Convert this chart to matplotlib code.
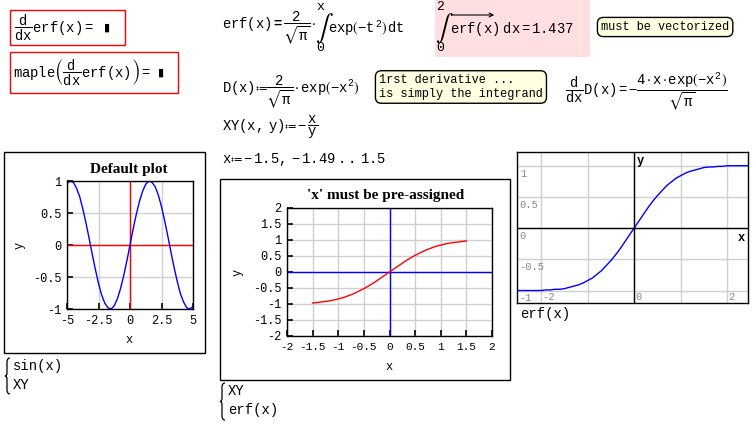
import numpy as np
import matplotlib
matplotlib.use("Agg")
import matplotlib.pyplot as plt
from matplotlib.patches import Rectangle, FancyArrowPatch, PathPatch
from matplotlib.path import Path

# --- data ---
sin_x = [-5, -4.75, -4.5, -4.25, -4, -3.75, -3.5, -3.25, -3, -2.75, -2.5, -2.25, -2, -1.75,
         -1.5, -1.25, -1, -0.75, -0.5, -0.25, 0, 0.25, 0.5, 0.75, 1, 1.25, 1.5, 1.75, 2,
         2.25, 2.5, 2.75, 3, 3.25, 3.5, 3.75, 4, 4.25, 4.5, 4.75, 5]
sin_y = [0.96, 1.00, 0.98, 0.89, 0.76, 0.57, 0.35, 0.11, -0.14, -0.38, -0.60, -0.78, -0.91, -0.98,
         -1.00, -0.95, -0.84, -0.68, -0.48, -0.25, 0.00, 0.25, 0.48, 0.68, 0.84, 0.95, 1.00, 0.98, 0.91,
         0.78, 0.60, 0.38, 0.14, -0.11, -0.35, -0.57, -0.76, -0.89, -0.98, -1.00, -0.96]

erf_x = [-2.5, -2.4, -2.3, -2.2, -2.1, -2.0, -1.9, -1.8, -1.7, -1.6, -1.5, -1.4, -1.3, -1.2,
         -1.1, -1.0, -0.9, -0.8, -0.7, -0.6, -0.5, -0.4, -0.3, -0.2, -0.1, 0.0, 0.1, 0.2, 0.3,
         0.4, 0.5, 0.6, 0.7, 0.8, 0.9, 1.0, 1.1, 1.2, 1.3, 1.4, 1.5, 1.6, 1.7, 1.8, 1.9, 2.0,
         2.1, 2.2, 2.3, 2.4, 2.5]
erf_y = [-1.00, -1.00, -1.00, -1.00, -1.00, -1.00, -0.99, -0.99, -0.98, -0.98, -0.97, -0.95, -0.93, -0.91,
         -0.88, -0.84, -0.80, -0.74, -0.68, -0.60, -0.52, -0.43, -0.33, -0.22, -0.11, 0.00, 0.11, 0.22, 0.33,
         0.43, 0.52, 0.60, 0.68, 0.74, 0.80, 0.84, 0.88, 0.91, 0.93, 0.95, 0.97, 0.98, 0.98, 0.99, 0.99, 1.00,
         1.00, 1.00, 1.00, 1.00, 1.00]

p1_xticks = [-5, -2.5, 0, 2.5, 5]
p1_xlabels = ["-5", "-2.5", "0", "2.5", "5"]
p1_yticks = [-1, -0.5, 0, 0.5, 1]
p1_ylabels = ["-1", "-0.5", "0", "0.5", "1"]

p2_ticks = [-2, -1.5, -1, -0.5, 0, 0.5, 1, 1.5, 2]
p2_labels = ["-2", "-1.5", "-1", "-0.5", "0", "0.5", "1", "1.5", "2"]

p3_xticks = [-2, -1, 0, 1, 2]
p3_xlabels = {-2: "-2", 0: "0", 2: "2"}
p3_yticks = [-1, -0.5, 0, 0.5, 1]
p3_ylabels = ["-1", "-0.5", "0", "0.5", "1"]

integral_value = "1.437"

# --- setup ---
W, H = 756, 426
plt.rcParams['mathtext.fontset'] = 'custom'
plt.rcParams['mathtext.rm'] = 'Liberation Mono'
plt.rcParams['mathtext.it'] = 'Liberation Mono'
plt.rcParams['mathtext.bf'] = 'Liberation Mono:bold'
plt.rcParams['mathtext.fallback'] = 'stix'
plt.rcParams['axes.unicode_minus'] = False
plt.rcParams['font.family'] = ['Liberation Mono', 'DejaVu Sans Mono']

fig = plt.figure(figsize=(W / 100, H / 100), dpi=100)
fig.patch.set_facecolor('white')

MONO = 8.6
MATH = 10


def px(x, y):
    return x / W, 1 - y / H


def put(x, y, s, **kw):
    fx, fy = px(x, y)
    return fig.text(fx, fy, s, **kw)


def box_axes(l, t, r, b):
    return fig.add_axes([l / W, 1 - b / H, (r - l) / W, (b - t) / H])


def frame(l, t, r, b, **kw):
    fig.add_artist(Rectangle(px(l, b), (r - l) / W, (b - t) / H,
                             transform=fig.transFigure, **kw))


def brace(x, top, bot):
    # thin curly bracket like Mathcad's multi-plot label
    mid = (top + bot) / 2
    pts = [(x + 5, top), (x + 2, top), (x + 2, top + 4), (x + 2, mid - 3),
           (x + 2, mid), (x, mid), (x + 2, mid), (x + 2, mid + 3),
           (x + 2, bot - 4), (x + 2, bot), (x + 5, bot)]
    codes = [Path.MOVETO, Path.CURVE3, Path.CURVE3, Path.LINETO,
             Path.CURVE3, Path.CURVE3, Path.CURVE3, Path.CURVE3,
             Path.LINETO, Path.CURVE3, Path.CURVE3]
    verts = [px(a, b) for a, b in pts]
    fig.add_artist(PathPatch(Path(verts, codes), transform=fig.transFigure,
                             fill=False, ec='black', lw=0.9))


def integral(x, y, lo, hi):
    put(x, y, "\u222b", family='STIXGeneral', fontsize=19, ha='left', va='center')
    put(x + 1, y - 21, hi, fontsize=9.5, ha='left', va='center')
    put(x + 1, y + 20, lo, fontsize=9.5, ha='left', va='center')


# --- top formulas ---
frame(10, 10, 125, 45, fill=False, ec='red', lw=1)
put(14, 28, r"$\dfrac{d}{dx}erf(x)=$", fontsize=MATH, va='center')
put(104, 28, "\u25ae", family='DejaVu Sans', fontsize=8, va='center')

frame(10, 52, 178, 93, fill=False, ec='red', lw=1)
put(13, 73, r"$maple\left(\dfrac{d}{dx}erf(x)\right)=$", fontsize=MATH, va='center')
put(158, 73, "\u25ae", family='DejaVu Sans', fontsize=8, va='center')

put(222, 28, r"$erf(x)\mathbf{=}\dfrac{2}{\sqrt{\pi}}\cdot$", fontsize=MATH, va='center')
integral(315, 28, "0", "x")
put(328, 28, r"$exp\left(-t^{2}\right)\,dt$", fontsize=MATH, va='center')

frame(435, 0, 590, 57, fill=True, fc='#ffdfdf', ec='none', zorder=0)
integral(435, 28, "0", "2")
put(450, 29, r"$erf(x)\ dx=" + integral_value + "$", fontsize=MATH, va='center')
fig.add_artist(FancyArrowPatch(px(450, 15), px(497, 15), transform=fig.transFigure,
                               arrowstyle='->', mutation_scale=7, lw=0.8, color='black'))

note = dict(boxstyle='round,pad=0.3,rounding_size=0.5', fc='#ffffe1', ec='black', lw=1)
put(601, 27, "must be vectorized", fontsize=MONO, va='center', bbox=note)

put(222, 92, r"$D(x)≔\dfrac{2}{\sqrt{\pi}}\cdot exp\left(-x^{2}\right)$", fontsize=MATH, va='center')
put(379, 87, "1rst derivative ...\nis simply the integrand", fontsize=MONO, va='center',
    linespacing=1.15, bbox=note)
put(565, 92, r"$\dfrac{d}{dx}D(x)=-\dfrac{4\cdot x\cdot exp\left(-x^{2}\right)}{\sqrt{\pi}}$",
    fontsize=MATH, va='center')

put(222, 127, r"$XY(x,\ y)≔-\dfrac{x}{y}$", fontsize=MATH, va='center')
put(222, 160, r"$x≔-1.5,\,-1.49\ ..\ 1.5$", fontsize=MATH, va='center')


def style(ax, axis_color):
    for s in ax.spines.values():
        s.set_color('black')
        s.set_linewidth(1)
    ax.grid(color='#cfcfcf', lw=1)
    ax.set_axisbelow(True)
    ax.axhline(0, color=axis_color, lw=1)
    ax.axvline(0, color=axis_color, lw=1)
    ax.tick_params(direction='in', length=4, width=1.2, labelsize=MONO, pad=4,
                   colors='black')


# --- plot 1: Default plot ---
frame(4, 152, 205, 353, fill=False, ec='black', lw=1)
ax1 = box_axes(67, 181, 193, 309)
style(ax1, 'red')
ax1.plot(sin_x, sin_y, color='blue', lw=1)
ax1.set_xlim(-5, 5)
ax1.set_ylim(-1, 1)
ax1.set_xticks(p1_xticks, p1_xlabels)
ax1.set_yticks(p1_yticks, p1_ylabels)
put(129, 169, "Default plot", family='Liberation Serif', fontweight='bold', fontsize=11,
    ha='center', va='center')
put(129, 340, "x", fontsize=MONO, ha='center', va='center')
put(20, 245, "y", fontsize=MONO, ha='center', va='center', rotation=90)

brace(5, 358, 394)
put(13, 366, "sin(x)", fontsize=MATH, va='center')
put(13, 385, "XY", fontsize=MATH, va='center')

# --- plot 2: 'x' must be pre-assigned ---
frame(220, 179, 510, 380, fill=False, ec='black', lw=1)
ax2 = box_axes(287, 208, 492, 336)
style(ax2, 'blue')
ax2.plot(erf_x[10:41], erf_y[10:41], color='red', lw=1)
ax2.set_xlim(-2, 2)
ax2.set_ylim(-2, 2)
ax2.set_xticks(p2_ticks, p2_labels)
ax2.set_yticks(p2_ticks, p2_labels)
ax2.tick_params(axis='x', labelsize=8)
put(386, 196, "'x' must be pre-assigned", family='Liberation Serif', fontweight='bold',
    fontsize=11, ha='center', va='center')
put(389, 367, "x", fontsize=MONO, ha='center', va='center')
put(238, 272, "y", fontsize=MONO, ha='center', va='center', rotation=90)

brace(220, 383, 420)
put(228, 391, "XY", fontsize=MATH, va='center')
put(228, 410, "erf(x)", fontsize=MATH, va='center')

# --- plot 3: crossed axes ---
ax3 = box_axes(517, 152, 748, 303)
ax3.plot(erf_x, erf_y, color='blue', lw=1)
ax3.set_xlim(-2.52, 2.45)
ax3.set_ylim(-1.2, 1.22)
ax3.set_xticks(p3_xticks)
ax3.set_yticks(p3_yticks)
ax3.grid(color='#cfcfcf', lw=1)
ax3.set_axisbelow(True)
ax3.tick_params(length=0, labelbottom=False, labelleft=False)
for s in ax3.spines.values():
    s.set_color('black')
    s.set_linewidth(1)
ax3.axhline(0, color='black', lw=1)
ax3.axvline(0, color='black', lw=1)
for yv, lbl in zip(p3_yticks, p3_ylabels):
    ax3.annotate(lbl, (0, yv), xycoords=('axes fraction', 'data'), xytext=(2, -2),
                 textcoords='offset points', va='top', ha='left', fontsize=7.5, color='#888888')
for xv, lbl in p3_xlabels.items():
    ax3.annotate(lbl, (xv, 0), xycoords=('data', 'axes fraction'), xytext=(1, 1),
                 textcoords='offset points', va='bottom', ha='left', fontsize=7.5, color='#888888')
ax3.annotate("y", (0, 1), xycoords=('data', 'axes fraction'), xytext=(2, -2),
             textcoords='offset points', va='top', ha='left', fontsize=MONO, fontweight='bold')
ax3.annotate("x", (1, 0), xycoords=('axes fraction', 'data'), xytext=(-2, -3),
             textcoords='offset points', va='top', ha='right', fontsize=MONO, fontweight='bold')
put(520, 314, "erf(x)", fontsize=MATH, va='center')

fig.savefig("out.png", dpi=100)
